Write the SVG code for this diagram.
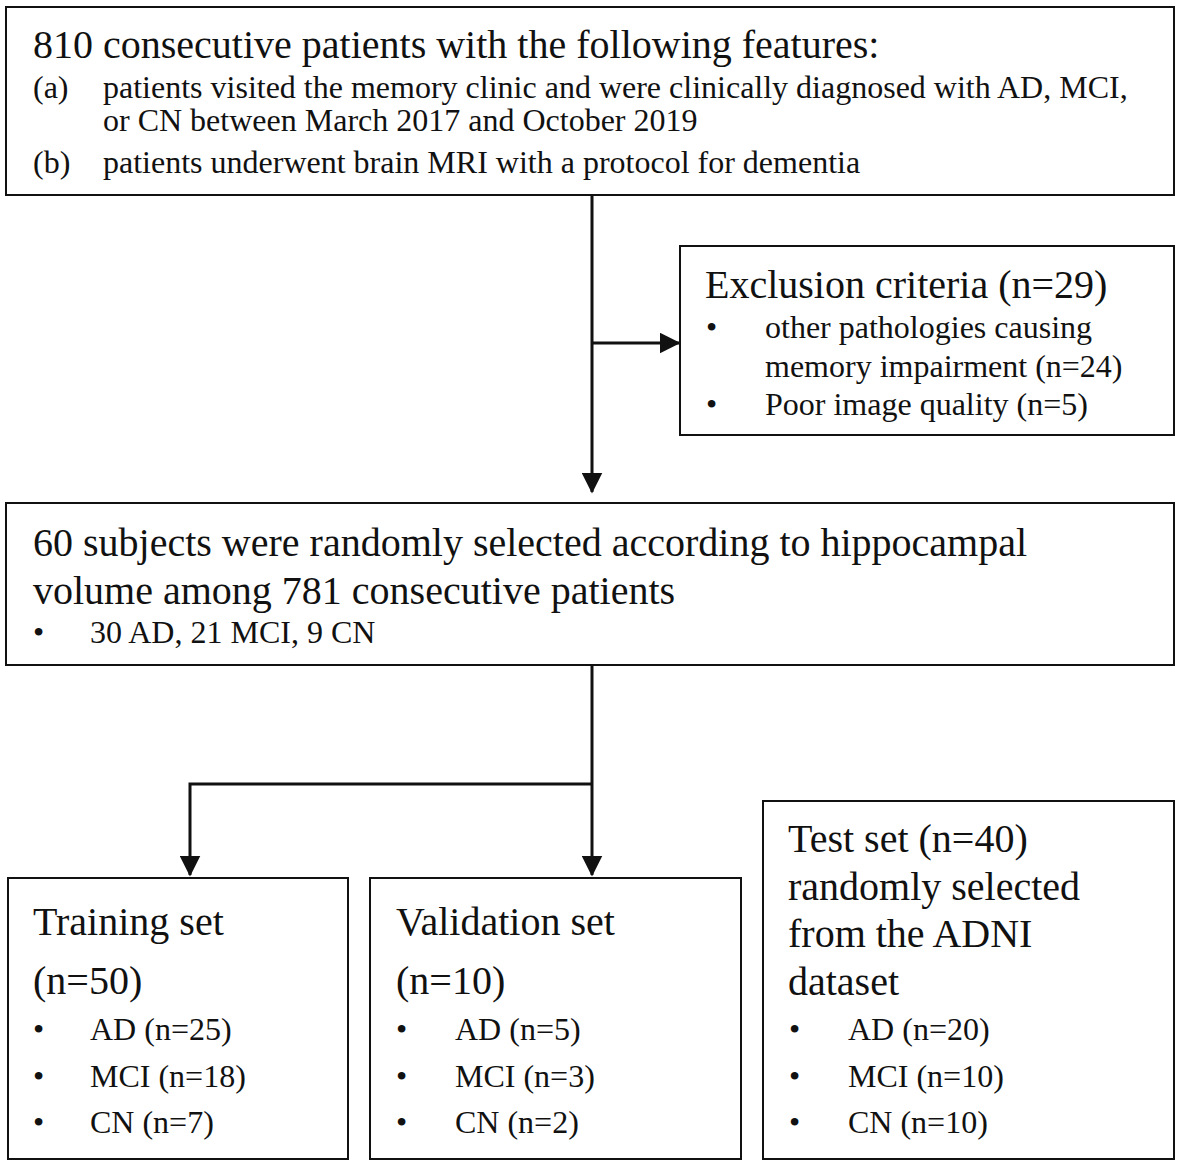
<svg xmlns="http://www.w3.org/2000/svg" width="1182" height="1168" viewBox="0 0 1182 1168">
<style>
.box{fill:#fff;stroke:#111;stroke-width:2}
.t{font-family:"Liberation Serif","Times New Roman",serif;fill:#111}
.h{font-size:40px}
.s{font-size:32px}
.c{fill:none;stroke:#111;stroke-width:3}
</style>
<defs>
<marker id="ah" markerWidth="7" markerHeight="7" refX="6.5" refY="3.5" orient="auto" markerUnits="strokeWidth">
<path d="M0,0 L7,3.5 L0,7 Z" fill="#111"/>
</marker>
</defs>
<rect width="1182" height="1168" fill="#fff"/>
<g id="connectors">
<path class="c" d="M592,195 V492" marker-end="url(#ah)"/>
<path class="c" d="M592,343 H679" marker-end="url(#ah)"/>
<path class="c" d="M592,665 V875" marker-end="url(#ah)"/>
<path class="c" d="M592,784 H190 V875" marker-end="url(#ah)"/>
</g>
<g id="node-patients">
<rect class="box" x="6" y="7" width="1168" height="188"/>
<text class="t h" x="33" y="58">810 consecutive patients with the following features:</text>
<text class="t s" x="33" y="98">(a)</text>
<text class="t s" x="103" y="98">patients visited the memory clinic and were clinically diagnosed with AD, MCI,</text>
<text class="t s" x="103" y="131">or CN between March 2017 and October 2019</text>
<text class="t s" x="33" y="173">(b)</text>
<text class="t s" x="103" y="173">patients underwent brain MRI with a protocol for dementia</text>
</g>
<g id="node-exclusion">
<rect class="box" x="680" y="246" width="494" height="189"/>
<text class="t h" x="705" y="298">Exclusion criteria (n=29)</text>
<text class="t s" x="706" y="338">•</text>
<text class="t s" x="765" y="338">other pathologies causing</text>
<text class="t s" x="765" y="377">memory impairment (n=24)</text>
<text class="t s" x="706" y="415">•</text>
<text class="t s" x="765" y="415">Poor image quality (n=5)</text>
</g>
<g id="node-selected">
<rect class="box" x="6" y="503" width="1168" height="162"/>
<text class="t h" x="33" y="556">60 subjects were randomly selected according to hippocampal</text>
<text class="t h" x="33" y="604">volume among 781 consecutive patients</text>
<text class="t s" x="33" y="643">•</text>
<text class="t s" x="90" y="643">30 AD, 21 MCI, 9 CN</text>
</g>
<g id="node-training">
<rect class="box" x="8" y="878" width="340" height="281"/>
<text class="t h" x="33" y="935">Training set</text>
<text class="t h" x="33" y="994">(n=50)</text>
<text class="t s" x="33" y="1040">•</text>
<text class="t s" x="90" y="1040">AD (n=25)</text>
<text class="t s" x="33" y="1087">•</text>
<text class="t s" x="90" y="1087">MCI (n=18)</text>
<text class="t s" x="33" y="1133">•</text>
<text class="t s" x="90" y="1133">CN (n=7)</text>
</g>
<g id="node-validation">
<rect class="box" x="370" y="878" width="371" height="281"/>
<text class="t h" x="396" y="935">Validation set</text>
<text class="t h" x="396" y="994">(n=10)</text>
<text class="t s" x="396" y="1040">•</text>
<text class="t s" x="455" y="1040">AD (n=5)</text>
<text class="t s" x="396" y="1087">•</text>
<text class="t s" x="455" y="1087">MCI (n=3)</text>
<text class="t s" x="396" y="1133">•</text>
<text class="t s" x="455" y="1133">CN (n=2)</text>
</g>
<g id="node-test">
<rect class="box" x="763" y="801" width="411" height="358"/>
<text class="t h" x="788" y="852">Test set (n=40)</text>
<text class="t h" x="788" y="900">randomly selected</text>
<text class="t h" x="788" y="947">from the ADNI</text>
<text class="t h" x="788" y="995">dataset</text>
<text class="t s" x="789" y="1040">•</text>
<text class="t s" x="848" y="1040">AD (n=20)</text>
<text class="t s" x="789" y="1087">•</text>
<text class="t s" x="848" y="1087">MCI (n=10)</text>
<text class="t s" x="789" y="1133">•</text>
<text class="t s" x="848" y="1133">CN (n=10)</text>
</g>
</svg>
